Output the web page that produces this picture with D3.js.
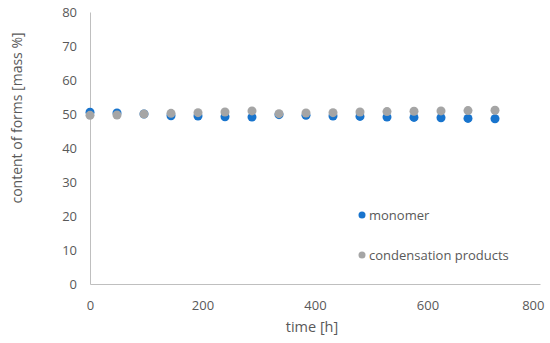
<!DOCTYPE html>
<html><head><meta charset="utf-8">
<script src="https://cdn.jsdelivr.net/npm/d3@7"></script>
<style>body{margin:0;background:#fff}svg{display:block}text{font-family:"Open Sans",Lato,sans-serif;fill:#595959}</style>
</head><body><svg id="c" width="550" height="343"></svg>
<script>
const times = [0,48,96,144,192,240,288,336,384,432,480,528,576,624,672,720];
const monomer = [50.5,50.3,50.0,49.5,49.4,49.2,49.1,49.8,49.6,49.4,49.3,49.1,49.0,48.9,48.7,48.6];
const condensation = [49.6,49.7,50.0,50.2,50.4,50.6,50.9,50.1,50.3,50.4,50.6,50.7,50.8,50.9,51.0,51.1];
const xTicks = [0,200,400,600,800];
const yTicks = [0,10,20,30,40,50,60,70,80];
const seriesNames = ["monomer","condensation products"];
const colors = ["#1874CD","#A5A5A5"];

const svg = d3.select("#c");
const x = d3.scaleLinear().domain([0,800]).range([90,540]);
const y = d3.scaleLinear().domain([0,80]).range([284,12]);

const xa = svg.append("g").attr("transform","translate(0,284)")
  .call(d3.axisBottom(x).tickValues(xTicks).tickSize(0).tickPadding(17));
xa.select(".domain").attr("stroke","#BFBFBF");
xa.selectAll("text").style("font-size","13px").attr("fill","#595959");
xa.selectAll(".tick").filter(d=>d===800).select("text").attr("text-anchor","end").attr("x",4);

const ya = svg.append("g").attr("transform","translate(90,0)")
  .call(d3.axisLeft(y).tickValues(yTicks).tickSize(0).tickPadding(13));
ya.select(".domain").attr("stroke","#BFBFBF");
ya.selectAll("text").style("font-size","13px").attr("fill","#595959");

svg.append("text").attr("x",312).attr("y",332).attr("text-anchor","middle")
  .style("font-size","14.5px").text("time [h]");
svg.append("text").attr("transform","translate(22,118) rotate(-90)").attr("text-anchor","middle")
  .style("font-size","14px").text("content of forms [mass %]");

[monomer, condensation].forEach((vals,i)=>{
  svg.append("g").selectAll("circle").data(vals).join("circle")
    .attr("cx",(d,j)=>x(times[j])).attr("cy",d=>y(d)).attr("r",4.5)
    .attr("fill",colors[i]);
});

const lg = svg.append("g");
seriesNames.forEach((n,i)=>{
  const ly = 215 + i*40;
  lg.append("circle").attr("cx",362).attr("cy",ly).attr("r",3.5).attr("fill",colors[i]);
  lg.append("text").attr("x",369).attr("y",ly+4.5).style("font-size","13px").text(n);
});
</script></body></html>
